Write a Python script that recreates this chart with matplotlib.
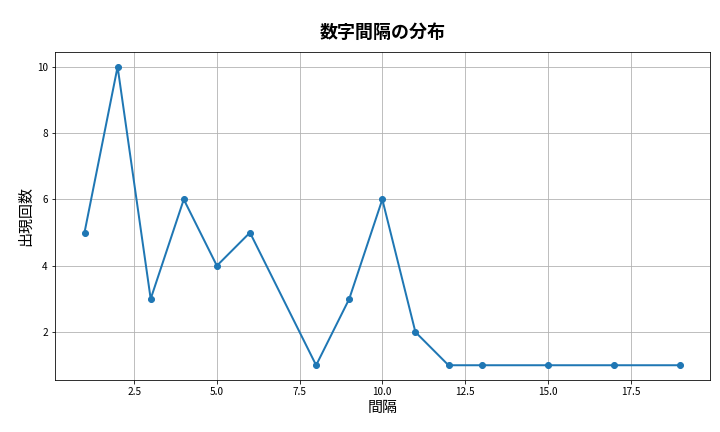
import matplotlib
matplotlib.use("Agg")
import matplotlib.pyplot as plt

plt.rcParams['font.family'] = ['Noto Sans CJK JP', 'DejaVu Sans']

intervals = [1, 2, 3, 4, 5, 6, 8, 9, 10, 11, 12, 13, 15, 17, 19]
counts = [5, 10, 3, 6, 4, 5, 1, 3, 6, 2, 1, 1, 1, 1, 1]

fig, ax = plt.subplots(figsize=(10, 6), dpi=72)
ax.plot(intervals, counts, marker='o', linewidth=2, color='#1f77b4')
ax.set_title('数字間隔の分布', fontsize=18, fontweight='bold', pad=14)
ax.set_xlabel('間隔', fontsize=15)
ax.set_ylabel('出現回数', fontsize=15)
ax.grid(True)
fig.subplots_adjust(left=0.076, right=0.986, top=0.88, bottom=0.12)
fig.savefig('out.png')
